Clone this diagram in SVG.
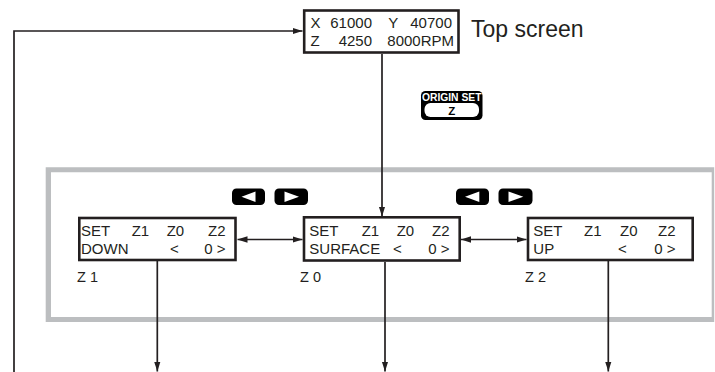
<svg xmlns="http://www.w3.org/2000/svg" width="715" height="372" viewBox="0 0 715 372">
<style>
  .box{fill:#fff;stroke:#231f20;stroke-width:2.6}
  .t{font-family:"Liberation Sans",Arial,sans-serif;font-size:15px;fill:#231f20}
  .lbl{font-family:"Liberation Sans",Arial,sans-serif;font-size:14.5px;fill:#231f20}
  .e{text-anchor:end}
  .con{fill:none;stroke:#231f20;stroke-width:1.7}
  .btn{fill:#000}
  .tri{fill:#fff}
</style>
<defs>
  <marker id="ah" markerUnits="userSpaceOnUse" markerWidth="10" markerHeight="8" refX="10" refY="4" orient="auto-start-reverse">
    <path d="M0,0.8 L10,4 L0,7.2 Z" fill="#231f20"/>
  </marker>
</defs>
<rect width="715" height="372" fill="#fff"/>

<g id="frame">
  <path d="M45.7,167.3 H714.2 V322 H45.7 Z M51,172.3 V317 H711.7 V172.3 Z" fill="#bcbec0" fill-rule="evenodd"/>
</g>

<g id="connectors">
  <path class="con" d="M14,372 V31 H302.5" marker-end="url(#ah)"/>
  <path class="con" d="M382,54 V216.5" marker-end="url(#ah)"/>
  <path class="con" d="M237.5,239.5 H302.5" marker-start="url(#ah)" marker-end="url(#ah)"/>
  <path class="con" d="M461,239.5 H526.5" marker-start="url(#ah)" marker-end="url(#ah)"/>
  <path class="con" d="M157.3,261 V371.5" marker-end="url(#ah)"/>
  <path class="con" d="M385,262 V371.5" marker-end="url(#ah)"/>
  <path class="con" d="M608.3,261 V371.5" marker-end="url(#ah)"/>
</g>

<g id="top-screen">
  <rect class="box" x="304.2" y="10.5" width="154.3" height="42" stroke-width="3"/>
  <text class="t" x="310.5" y="28.3">X</text>
  <text class="t e" x="372" y="28.3">61000</text>
  <text class="t" x="388.3" y="28.3">Y</text>
  <text class="t e" x="452" y="28.3">40700</text>
  <text class="t" x="310.5" y="45.7">Z</text>
  <text class="t e" x="372" y="45.7">4250</text>
  <text class="t e" x="454" y="45.7">8000RPM</text>
  <text x="471" y="36.7" font-family="'Liberation Sans',Arial,sans-serif" font-size="23" fill="#231f20">Top screen</text>
</g>

<g id="origin-set-key">
  <rect class="btn" x="421" y="91" width="61.5" height="29" rx="4.5"/>
  <rect fill="#fff" x="424.5" y="103" width="54.5" height="14" rx="6"/>
  <text x="451.7" y="100.6" text-anchor="middle" font-family="'Liberation Sans',Arial,sans-serif" font-weight="bold" font-size="10.3" fill="#fff">ORIGIN SET</text>
  <text x="451.7" y="114.8" text-anchor="middle" font-family="'Liberation Sans',Arial,sans-serif" font-weight="bold" font-size="11.5" fill="#000">Z</text>
</g>

<g id="arrow-keys-left">
  <rect class="btn" x="232" y="188.4" width="33" height="16.6" rx="4.5"/>
  <path class="tri" d="M241.5,196.7 L255.5,191.4 V202 Z"/>
  <rect class="btn" x="274.5" y="188.4" width="33.5" height="16.6" rx="4.5"/>
  <path class="tri" d="M299,196.7 L284.5,191.4 V202 Z"/>
</g>

<g id="arrow-keys-right">
  <rect class="btn" x="456" y="188.4" width="33" height="16.6" rx="4.5"/>
  <path class="tri" d="M465,196.7 L479.3,191.4 V202 Z"/>
  <rect class="btn" x="498.5" y="188.4" width="34" height="16.6" rx="4.5"/>
  <path class="tri" d="M523.3,196.7 L508.5,191.4 V202 Z"/>
</g>

<g id="z1">
  <rect class="box" x="79.3" y="218" width="156.2" height="42"/>
  <text class="t" x="81" y="235.7">SET</text>
  <text class="t" x="131.7" y="235.7">Z1</text>
  <text class="t" x="166.7" y="235.7">Z0</text>
  <text class="t e" x="225.5" y="235.7">Z2</text>
  <text class="t" x="81" y="254">DOWN</text>
  <text class="t" x="170" y="254">&lt;</text>
  <text class="t e" x="225.5" y="254">0 &gt;</text>
  <text class="lbl" x="77" y="282">Z 1</text>
</g>

<g id="z0">
  <rect class="box" x="304" y="217.3" width="155.7" height="43.2"/>
  <text class="t" x="309.3" y="235.7">SET</text>
  <text class="t" x="361.7" y="235.7">Z1</text>
  <text class="t" x="396.7" y="235.7">Z0</text>
  <text class="t e" x="449.5" y="235.7">Z2</text>
  <text class="t" x="309.3" y="254">SURFACE</text>
  <text class="t" x="393" y="254">&lt;</text>
  <text class="t e" x="449.5" y="254">0 &gt;</text>
  <text class="lbl" x="300" y="282">Z 0</text>
</g>

<g id="z2">
  <rect class="box" x="528" y="218" width="164.7" height="42"/>
  <text class="t" x="533.3" y="235.7">SET</text>
  <text class="t" x="584" y="235.7">Z1</text>
  <text class="t" x="620" y="235.7">Z0</text>
  <text class="t e" x="675.5" y="235.7">Z2</text>
  <text class="t" x="533.3" y="254">UP</text>
  <text class="t" x="618" y="254">&lt;</text>
  <text class="t e" x="675.5" y="254">0 &gt;</text>
  <text class="lbl" x="525" y="282">Z 2</text>
</g>
</svg>
